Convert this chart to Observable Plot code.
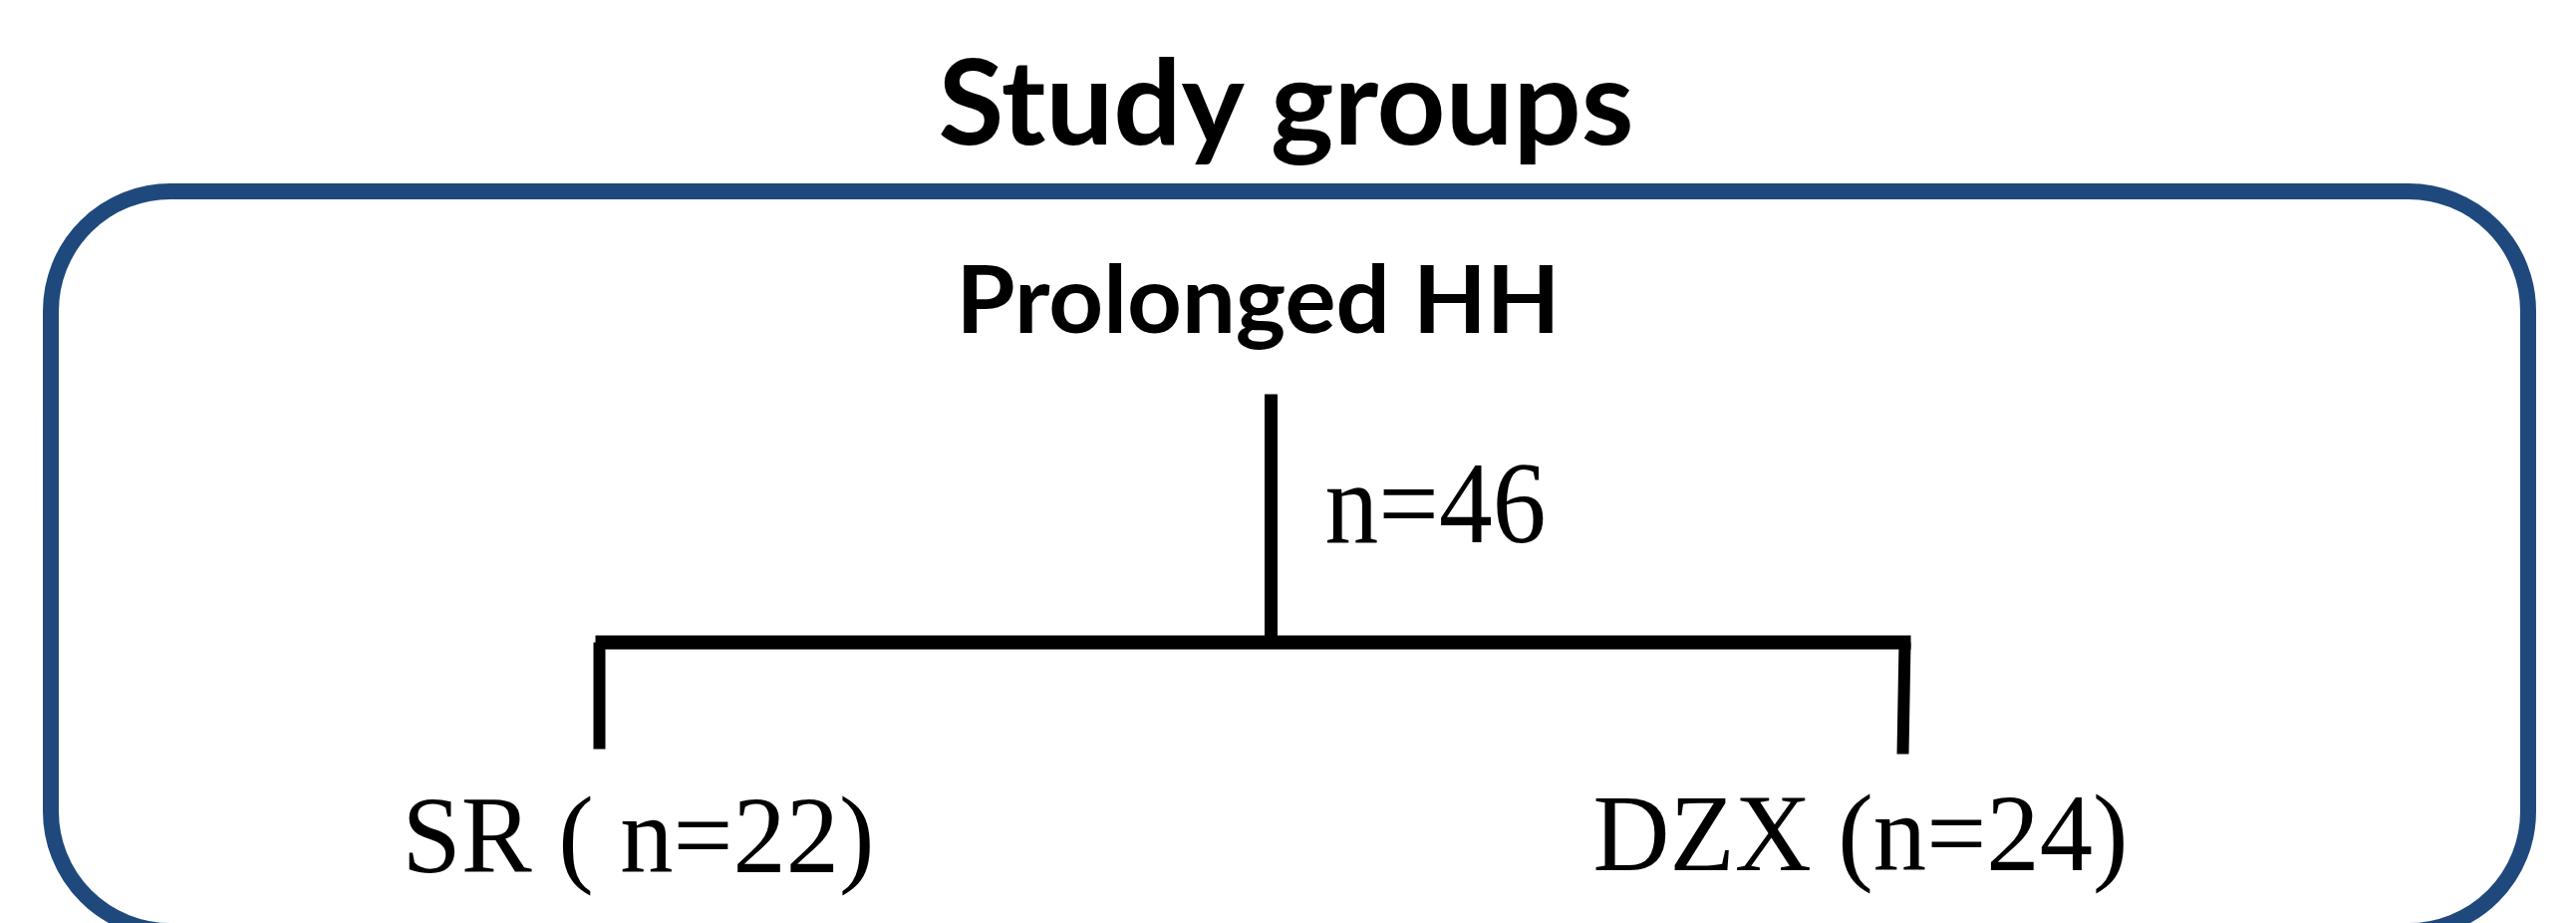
<!DOCTYPE html>
<html>
<head>
<meta charset="utf-8">
<script src="https://cdn.jsdelivr.net/npm/d3@7"></script>
<script src="https://cdn.jsdelivr.net/npm/@observablehq/plot@0.6"></script>
<style>
  html, body { margin: 0; padding: 0; background: #ffffff; overflow: hidden; }
  #chart svg { display: block; }
</style>
</head>
<body>
<div id="chart"></div>
<script>
// ---- content (data) ----
const chartTitle = "Study groups";
const rootLabel = "Prolonged HH";
const rootN = 46;
const groups = ["SR", "DZX"];
const groupN = [22, 24];
const groupLabels = ["SR ( n=22)", "DZX (n=24)"];

// ---- layout (positions in page pixels, used through identity scales) ----
const W = 2585, H = 926;
const BLUE = "#1F497D";
const layout = {
  box: {x1: 51, x2: 2537, y1: 192, y2: 934, rx: 120, sw: 16},
  title: {x: 1290, y: 144, size: 119, len: 698},
  root: {x: 1262, y: 333, size: 93, len: 606},
  rootN: {x: 1329, y: 543, size: 116, len: 222},
  stem: {x: 1275, y1: 395, y2: 645, sw: 13},
  bar: {x1: 597, x2: 1917, y: 644, sw: 14},
  legs: [{x1: 601, x2: 601, y1: 644, y2: 751}, {x1: 1911, x2: 1909, y1: 644, y2: 756}],
  legW: 12,
  groupText: [{x: 403, y: 874, len: 474}, {x: 1598, y: 872, len: 537}],
  groupSize: 111
};

const rootText = [{label: rootLabel, ...layout.root}];
const rootNText = [{label: `n=${rootN}`, ...layout.rootN}];
const groupRows = groups.map((g, i) => ({group: g, n: groupN[i], label: groupLabels[i], ...layout.groupText[i]}));
const edges = [
  {x1: layout.stem.x, x2: layout.stem.x, y1: layout.stem.y1, y2: layout.stem.y2, w: layout.stem.sw},
  {x1: layout.bar.x1, x2: layout.bar.x2, y1: layout.bar.y, y2: layout.bar.y, w: layout.bar.sw},
  ...layout.legs.map(l => ({...l, w: layout.legW}))
];

const plot = Plot.plot({
  width: W,
  height: H,
  margin: 0,
  x: {domain: [0, W], range: [0, W], axis: null},
  y: {domain: [0, H], range: [0, H], axis: null},
  style: {background: "#ffffff", overflow: "visible"},
  marks: [
    Plot.rect([layout.box], {
      x1: "x1", x2: "x2", y1: "y1", y2: "y2",
      rx: layout.box.rx, fill: "none", stroke: BLUE, strokeWidth: layout.box.sw
    }),
    ...edges.map(e => Plot.link([e], {
      x1: "x1", x2: "x2", y1: "y1", y2: "y2",
      stroke: "#000000", strokeWidth: e.w, strokeLinecap: "butt"
    })),
    Plot.text([{label: chartTitle, ...layout.title}], {
      x: "x", y: "y", text: "label", textAnchor: "middle", lineAnchor: "bottom",
      fontFamily: "Lato, 'Open Sans', sans-serif", fontWeight: 700,
      fontSize: layout.title.size, fill: "#000000"
    }),
    Plot.text(rootText, {
      x: "x", y: "y", text: "label", textAnchor: "middle", lineAnchor: "bottom",
      fontFamily: "Lato, 'Open Sans', sans-serif", fontWeight: 700,
      fontSize: layout.root.size, fill: "#000000"
    }),
    Plot.text(rootNText, {
      x: "x", y: "y", text: "label", textAnchor: "start", lineAnchor: "bottom",
      fontFamily: "'Liberation Serif', 'DejaVu Serif', serif",
      fontSize: layout.rootN.size, fill: "#000000"
    }),
    Plot.text(groupRows, {
      x: "x", y: "y", text: "label", textAnchor: "start", lineAnchor: "bottom",
      fontFamily: "'Liberation Serif', 'DejaVu Serif', serif",
      fontSize: layout.groupSize, fill: "#000000"
    })
  ]
});

// fit each label to the width it occupies in the reference
const lengths = {
  [chartTitle]: layout.title.len,
  [rootLabel]: layout.root.len,
  [`n=${rootN}`]: layout.rootN.len
};
groupRows.forEach(r => { lengths[r.label] = r.len; });
plot.querySelectorAll("text").forEach(t => {
  const L = lengths[t.textContent];
  if (L) {
    t.setAttribute("textLength", L);
    t.setAttribute("lengthAdjust", "spacingAndGlyphs");
  }
});

document.getElementById("chart").appendChild(plot);
</script>
</body>
</html>
